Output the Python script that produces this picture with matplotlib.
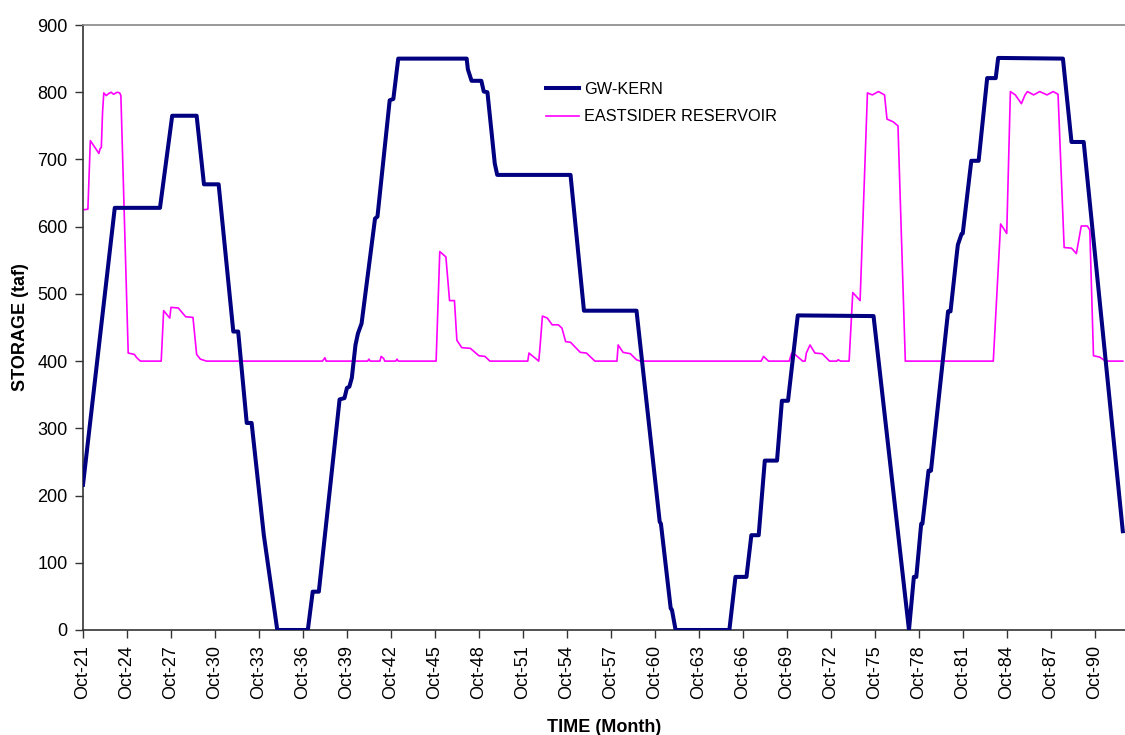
import matplotlib
matplotlib.use("Agg")
import matplotlib.pyplot as plt

plt.rcParams['font.family'] = ['Liberation Sans', 'DejaVu Sans']

# (month index, storage taf) breakpoints; month 0 = Oct-21
gw_points = [(0, 216), (26, 628), (63, 628), (73, 765), (93, 765), (99, 663), (111, 663),
             (123, 444), (127, 444), (134, 308), (138, 308), (148, 141), (159, 0), (184, 0),
             (188, 57), (193, 57), (210, 343), (214, 345), (216, 360), (218, 362), (220, 375),
             (223, 424), (225, 441), (228, 456), (239, 612), (241, 615), (251, 788), (254, 790),
             (258, 850), (314, 850), (315, 834), (318, 817), (326, 817), (328, 801), (331, 800),
             (337, 694), (339, 677), (399, 677), (410, 475), (453, 475), (472, 161), (473, 158),
             (481, 32), (482, 30), (485, 0), (529, 0), (534, 79), (543, 79), (547, 141),
             (553, 141), (558, 252), (568, 252), (572, 341), (577, 341), (585, 468), (647, 467),
             (676, 0), (680, 79), (682, 79), (686, 158), (687, 158), (692, 237), (694, 237),
             (708, 474), (710, 474), (715, 557), (716, 573), (719, 589), (720, 590), (727, 698),
             (733, 698), (740, 821), (747, 821), (749, 851), (802, 850), (809, 726), (819, 726),
             (851, 147)]

es_points = [(0, 625), (4, 626), (6, 728), (13, 709), (14, 716), (15, 718), (16, 770), (17, 799),
             (19, 795), (21, 798), (23, 800), (25, 797), (28, 800), (30, 799), (31, 795),
             (37, 412), (42, 410), (44, 405), (47, 400), (64, 400), (66, 475), (71, 464),
             (72, 480), (78, 479), (84, 466), (90, 465), (93, 410), (96, 403), (101, 400),
             (196, 400), (198, 405), (199, 400), (233, 400), (234, 403), (235, 400),
             (243, 400), (244, 407), (246, 404), (247, 400), (256, 400), (257, 403), (258, 400),
             (289, 400), (292, 563), (297, 555), (300, 490), (304, 490), (306, 431), (310, 420),
             (317, 419), (324, 408), (329, 407), (333, 400), (364, 400), (365, 412), (373, 400),
             (374, 420), (376, 467), (380, 464), (384, 454), (389, 454), (392, 449), (395, 429),
             (399, 428), (407, 413), (412, 412), (419, 400), (437, 400), (438, 424), (442, 413),
             (448, 411), (453, 402), (456, 400), (555, 400), (557, 407), (561, 400), (578, 400),
             (580, 412), (582, 411), (589, 400), (591, 400), (592, 412), (595, 424), (599, 412),
             (605, 411), (611, 400), (617, 400), (618, 402), (620, 400), (627, 400), (630, 502),
             (636, 490), (642, 799), (646, 796), (651, 801), (656, 796), (658, 760), (663, 756),
             (667, 750), (673, 400), (745, 400), (751, 604), (756, 590), (759, 801), (763, 796),
             (768, 783), (771, 796), (773, 801), (778, 796), (783, 801), (789, 796), (794, 801),
             (798, 797), (803, 569), (809, 568), (813, 560), (817, 601), (822, 601), (824, 595),
             (827, 408), (832, 406), (837, 400), (851, 400)]

tick_months = list(range(0, 829, 36))
tick_labels = ["Oct-21", "Oct-24", "Oct-27", "Oct-30", "Oct-33", "Oct-36", "Oct-39", "Oct-42",
               "Oct-45", "Oct-48", "Oct-51", "Oct-54", "Oct-57", "Oct-60", "Oct-63", "Oct-66",
               "Oct-69", "Oct-72", "Oct-75", "Oct-78", "Oct-81", "Oct-84", "Oct-87", "Oct-90"]
y_ticks = list(range(0, 901, 100))

gw_months, gw_values = zip(*gw_points)
es_months, es_values = zip(*es_points)

fig = plt.figure(figsize=(11.25, 7.35), dpi=100)
ax = fig.add_axes([83 / 1125, 1 - 630 / 735, 1 - 83 / 1125, 605 / 735])

ax.plot(gw_months, gw_values, color='#000080', lw=2.9, label='GW-KERN', zorder=3)
ax.plot(es_months, es_values, color='#FF00FF', lw=1.2, label='EASTSIDER RESERVOIR', zorder=2)

ax.set_xlim(0, 852.8)
ax.set_ylim(0, 900)
ax.set_xticks(tick_months)
ax.set_xticklabels(tick_labels, rotation=90, fontsize=13)
ax.set_yticks(y_ticks)
ax.set_yticklabels([str(v) for v in y_ticks], fontsize=13)
ax.tick_params(axis='both', direction='out', length=6, width=1, color='#333333')
ax.tick_params(axis='y', pad=5)
ax.tick_params(axis='x', pad=5)

for s in ['left', 'bottom']:
    ax.spines[s].set_color('#333333')
    ax.spines[s].set_linewidth(1.2)
ax.spines['top'].set_color('#888888')
ax.spines['top'].set_linewidth(1.2)
ax.spines['right'].set_visible(False)

ax.set_xlabel('TIME (Month)', fontsize=13, fontweight='bold', labelpad=14)
ax.set_ylabel('STORAGE (taf)', fontsize=13, fontweight='bold', labelpad=6)

ax.legend(loc='upper left', bbox_to_anchor=(546 / 1125, 1 - 82 / 735),
          bbox_transform=fig.transFigure, frameon=False, fontsize=11.7,
          handlelength=2.05, handletextpad=0.3, labelspacing=0.75,
          borderaxespad=0, borderpad=0)

fig.savefig('out.png', dpi=100)
